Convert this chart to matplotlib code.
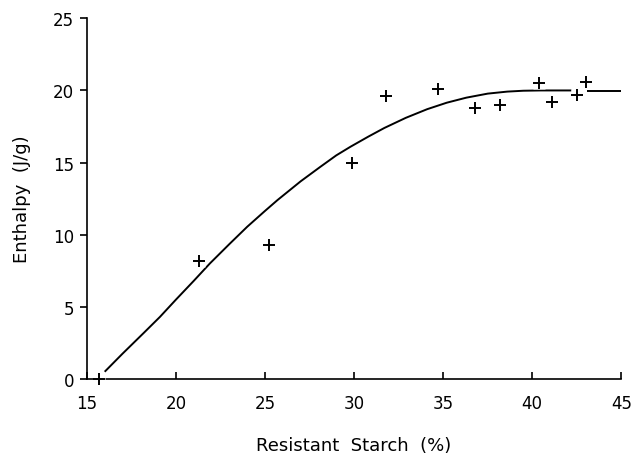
import matplotlib
matplotlib.use("Agg")
import matplotlib.pyplot as plt

plt.rcParams['font.family'] = ['DejaVu Sans']

# Measured data points (Resistant starch %, Enthalpy J/g)
rs_pct = [15.7, 21.3, 25.2, 29.9, 31.8, 34.7, 36.8, 38.2, 40.4, 41.1, 42.5, 43.0]
enthalpy = [0.0, 8.2, 9.3, 15.0, 19.6, 20.1, 18.8, 19.0, 20.5, 19.2, 19.7, 20.6]

# Fitted curve (two pieces, broken at the marker near 42.5)
curve_x1 = [16.0, 17.0, 18.2, 19.1, 20.0, 21.0, 21.9, 23.0, 24.0, 25.0, 25.7, 27.0,
            28.1, 29.0, 29.8, 30.8, 31.7, 32.9, 34.1, 35.2, 36.3, 37.5, 38.6, 39.5,
            40.5, 42.2]
curve_y1 = [0.5, 1.75, 3.2, 4.3, 5.5, 6.8, 8.0, 9.35, 10.55, 11.65, 12.4, 13.7,
            14.7, 15.5, 16.1, 16.8, 17.4, 18.1, 18.7, 19.15, 19.5, 19.78, 19.92, 19.98,
            20.0, 20.0]
curve_x2 = [43.1, 45.0]
curve_y2 = [19.95, 19.95]

x_ticks = [15, 20, 25, 30, 35, 40, 45]
y_ticks = [0, 5, 10, 15, 20, 25]

fig = plt.figure(figsize=(6.34, 4.6), dpi=100)
ax = fig.add_axes([0.137, 0.174, 0.843, 0.784])

ax.plot(curve_x1, curve_y1, color='black', lw=1.4, zorder=2, solid_capstyle='butt')
ax.plot(curve_x2, curve_y2, color='black', lw=1.4, zorder=2, solid_capstyle='butt')

# white halo behind markers (breaks lines as in the original)
ax.plot(rs_pct, enthalpy, linestyle='none', marker='s', markersize=9,
        markerfacecolor='white', markeredgecolor='none', zorder=3, clip_on=False)
ax.plot(rs_pct, enthalpy, linestyle='none', marker='+', markersize=8,
        markeredgewidth=1.4, color='black', zorder=4, clip_on=False)

ax.set_xlim(15, 45)
ax.set_ylim(0, 25)
ax.set_xticks(x_ticks)
ax.set_yticks(y_ticks)

for s in ['top', 'right']:
    ax.spines[s].set_visible(False)
for s in ['left', 'bottom']:
    ax.spines[s].set_linewidth(1.2)

ax.tick_params(axis='x', direction='in', length=5, width=1.2, pad=11, labelsize=12)
ax.tick_params(axis='y', direction='out', length=5, width=1.2, pad=4, labelsize=12)

ax.set_xlabel('Resistant  Starch  (%)', fontsize=13, labelpad=17)
ax.set_ylabel('Enthalpy  (J/g)', fontsize=13, labelpad=16)

fig.savefig('out.png', dpi=100)
